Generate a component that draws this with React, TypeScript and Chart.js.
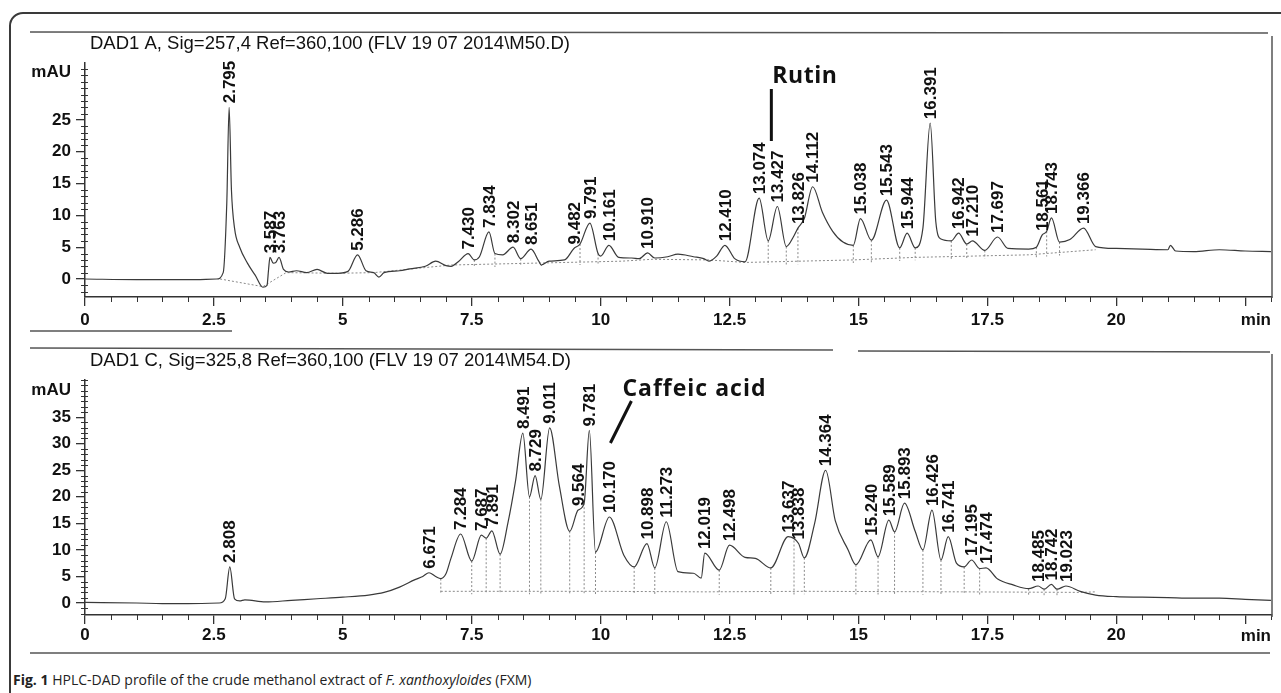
import React, { useEffect, useRef } from 'react';
import { Chart, registerables } from 'chart.js';

Chart.register(...registerables);

const FONT = '"Liberation Sans", Arial, Helvetica, sans-serif';
const ANNOT_FONT = 'bold 23px "Open Sans", "Noto Sans", sans-serif';

// ---------- shared x axis (retention time, min) ----------
const xTickValues = [0, 2.5, 5, 7.5, 10, 12.5, 15, 17.5, 20, 22.5];
const xTickLabels = ['0', '2.5', '5', '7.5', '10', '12.5', '15', '17.5', '20', ''];
const xMax = 23.02;

// ---------- Panel A: DAD1 A, Sig=257,4 ----------
const topTitle = 'DAD1 A, Sig=257,4 Ref=360,100 (FLV 19 07 2014\\M50.D)';
const topYTicks = [0, 5, 10, 15, 20, 25];
const topYLabels = ['0', '5', '10', '15', '20', '25'];
const topYMin = -2.83;
const topYMax = 33.96;
// [time (min), signal (mAU)]
const topTrace: [number, number][] = [
  [0, 0], [1, -0.1], [2, -0.1], [2.55, 0], [2.68, 1], [2.75, 12], [2.795, 27], [2.84, 14], [2.9, 8],
  [3, 5], [3.15, 2.5], [3.3, 0.6], [3.45, -1.3], [3.53, -1], [3.56, 1.5], [3.587, 3.4], [3.65, 2.5],
  [3.7, 2.6], [3.763, 3.4], [3.85, 1.5], [3.95, 1.1], [4.1, 1.3], [4.3, 1.0], [4.5, 1.5], [4.7, 0.9],
  [4.9, 0.9], [5.1, 1.2], [5.286, 3.8], [5.45, 1.3], [5.6, 1.0], [5.7, 0.3], [5.8, 1.0], [6.1, 1.3],
  [6.3, 1.6], [6.6, 2.0], [6.8, 2.8], [7.0, 2.1], [7.1, 2.0], [7.25, 2.8], [7.43, 4.0], [7.55, 3.0],
  [7.65, 3.5], [7.834, 7.4], [7.95, 4.0], [8.1, 3.8], [8.302, 5.0], [8.45, 3.2], [8.651, 4.7], [8.8, 2.8],
  [8.85, 2.2], [9.0, 2.8], [9.3, 3.0], [9.482, 4.8], [9.6, 5.5], [9.791, 8.8], [9.95, 4.0], [10.0, 3.6],
  [10.161, 5.3], [10.35, 3.4], [10.6, 3.3], [10.75, 3.2], [10.91, 4.1], [11.05, 3.3], [11.3, 3.5],
  [11.5, 3.9], [11.8, 3.5], [12.0, 3.2], [12.1, 2.8], [12.25, 3.6], [12.41, 5.3], [12.6, 3.2], [12.8, 2.7],
  [13.074, 12.7], [13.25, 6.0], [13.427, 11.4], [13.6, 5.1], [13.75, 6.8], [13.826, 8.0], [13.95, 9.5],
  [14.112, 14.5], [14.3, 10.5], [14.5, 7.5], [14.7, 5.8], [14.9, 5.3], [15.038, 9.5], [15.25, 6.1],
  [15.543, 12.4], [15.8, 4.9], [15.944, 7.2], [16.1, 4.9], [16.25, 8.0], [16.391, 24.5], [16.5, 9.0],
  [16.6, 6.3], [16.8, 6.0], [16.942, 7.2], [17.1, 5.5], [17.21, 6.0], [17.45, 4.5], [17.697, 6.6],
  [17.9, 4.8], [18.3, 4.7], [18.45, 5.0], [18.561, 6.9], [18.65, 7.5], [18.743, 9.6], [18.9, 5.8],
  [19.1, 6.2], [19.366, 8.0], [19.6, 5.1], [20.0, 4.8], [20.5, 4.7], [21.0, 4.6], [21.05, 5.3],
  [21.15, 4.4], [21.5, 4.3], [22.0, 4.6], [22.5, 4.4], [23.0, 4.3],
];
const topPeaks = [
  '2.795', '3.587', '3.763', '5.286', '7.430', '7.834', '8.302', '8.651', '9.482', '9.791', '10.161',
  '10.910', '12.410', '13.074', '13.427', '13.826', '14.112', '15.038', '15.543', '15.944', '16.391',
  '16.942', '17.210', '17.697', '18.561', '18.743', '19.366',
];
const topBaseline: [number, number][] = [
  [2.62, 0.0], [3.45, -1.2], [3.9, 1.0], [4.9, 0.9], [5.6, 1.0], [7.1, 2.2], [10.4, 2.8], [11.0, 3.1],
  [12.1, 3.0], [12.8, 2.6], [14.9, 3.0], [16.1, 3.4], [18.3, 3.8], [19.6, 4.6],
];
const topDrops = [7.55, 7.95, 8.45, 8.85, 9.6, 9.95, 13.25, 13.6, 13.826, 14.9, 15.25, 15.8, 16.1, 16.8, 17.1, 17.45, 18.45, 18.65, 18.9];

// ---------- Panel C: DAD1 C, Sig=325,8 ----------
const botTitle = 'DAD1 C, Sig=325,8 Ref=360,100 (FLV 19 07 2014\\M54.D)';
const botYTicks = [0, 5, 10, 15, 20, 25, 30, 35];
const botYLabels = ['0', '5', '10', '15', '20', '25', '30', '35'];
const botYMin = -2.26;
const botYMax = 42.0;
const botTrace: [number, number][] = [
  [0, 0.1], [1, 0], [1.5, -0.1], [2, -0.1], [2.6, 0], [2.72, 0.8], [2.808, 6.8], [2.9, 0.8], [3.0, 0.4],
  [3.1, 0.6], [3.5, 0.2], [4.0, 0.5], [4.5, 0.8], [5.0, 1.1], [5.5, 1.5], [5.8, 2.0], [6.1, 3.0],
  [6.4, 4.4], [6.55, 5.0], [6.671, 5.7], [6.8, 5.0], [6.9, 4.6], [7.0, 5.5], [7.1, 8.5], [7.284, 13.0],
  [7.5, 7.9], [7.687, 12.8], [7.78, 12.2], [7.891, 13.6], [8.05, 9.2], [8.2, 15], [8.35, 23], [8.491, 32.0],
  [8.62, 20.0], [8.729, 24.0], [8.84, 19.5], [9.011, 33.0], [9.2, 22], [9.4, 13.5], [9.564, 17.5],
  [9.68, 18.8], [9.781, 32.5], [9.9, 9.6], [10.17, 16.2], [10.45, 9], [10.65, 6.8], [10.898, 11.2],
  [11.05, 6.6], [11.273, 15.3], [11.5, 5.9], [11.8, 5.6], [11.95, 4.7], [12.019, 9.4], [12.3, 6.2],
  [12.498, 10.9], [12.8, 8.6], [13.0, 8.4], [13.3, 6.6], [13.637, 12.5], [13.838, 11.2], [13.95, 8.5],
  [14.15, 15], [14.364, 25.0], [14.55, 15.5], [14.8, 10], [14.95, 7.2], [15.24, 11.9], [15.38, 8.7],
  [15.589, 15.6], [15.7, 13.4], [15.893, 18.8], [16.1, 13.5], [16.25, 10.0], [16.426, 17.5], [16.6, 8.1],
  [16.741, 12.5], [16.9, 7.5], [17.05, 6.8], [17.195, 8.1], [17.35, 6.5], [17.474, 6.6], [17.7, 4.5],
  [18.0, 3.4], [18.3, 2.7], [18.485, 3.2], [18.6, 2.6], [18.742, 3.5], [18.85, 2.6], [19.023, 3.2],
  [19.3, 2.2], [19.6, 1.5], [20.0, 1.2], [20.5, 1.1], [21.0, 1.0], [21.5, 0.9], [22.0, 0.9], [22.5, 0.7],
  [23.0, 0.5],
];
const botPeaks = [
  '2.808', '6.671', '7.284', '7.687', '7.891', '8.491', '8.729', '9.011', '9.564', '9.781', '10.170',
  '10.898', '11.273', '12.019', '12.498', '13.637', '13.838', '14.364', '15.240', '15.589', '15.893',
  '16.426', '16.741', '17.195', '17.474', '18.485', '18.742', '19.023',
];
const botBaseline: [number, number][] = [
  [6.9, 2.2], [10.0, 2.2], [12.0, 2.1], [14.0, 2.2], [17.0, 2.1], [19.3, 2.0], [19.6, 2.1],
];
const botDrops = [6.9, 7.5, 7.78, 8.05, 8.62, 8.84, 9.4, 9.68, 9.9, 10.65, 11.05, 12.3, 13.3, 13.75, 13.95, 14.95, 15.38, 15.7, 16.25, 16.6, 17.05, 17.35, 18.3, 18.6, 18.85];

// ---------- helpers ----------
function valueAt(trace: [number, number][], t: number): number {
  for (let i = 0; i < trace.length - 1; i++) {
    const [t0, v0] = trace[i];
    const [t1, v1] = trace[i + 1];
    if (t >= t0 && t <= t1) return t1 === t0 ? v0 : v0 + ((v1 - v0) * (t - t0)) / (t1 - t0);
  }
  return trace[trace.length - 1][1];
}

type Seg = [number, number, number, number];
type PanelCfg = {
  height: number;
  areaTop: number;
  xAxisHeight: number;
  xPad: number;
  yMin: number;
  yMax: number;
  yTicks: number[];
  yLabels: string[];
  trace: [number, number][];
  baseline: [number, number][];
  peaks: string[];
  drops: number[];
  title: string;
  titleY: number;
  mauY: number;
  minY: number;
  rules: Seg[];
  annotate: (ctx: CanvasRenderingContext2D, xs: any) => void;
};

function panelPlugin(cfg: PanelCfg) {
  return {
    id: 'panelDecor',
    beforeDatasetsDraw(chart: any) {
      const ctx: CanvasRenderingContext2D = chart.ctx;
      const xs = chart.scales.x;
      const ys = chart.scales.y;
      ctx.save();
      ctx.strokeStyle = '#8a8a8a';
      ctx.lineWidth = 1;
      ctx.setLineDash([2, 2]);
      for (const t of cfg.drops) {
        const x = xs.getPixelForValue(t);
        const y1 = ys.getPixelForValue(valueAt(cfg.trace, t));
        const y2 = ys.getPixelForValue(valueAt(cfg.baseline, t));
        ctx.beginPath();
        ctx.moveTo(x, y1);
        ctx.lineTo(x, y2 + 3);
        ctx.stroke();
      }
      ctx.restore();
    },
    afterDraw(chart: any) {
      const ctx: CanvasRenderingContext2D = chart.ctx;
      const xs = chart.scales.x;
      const ys = chart.scales.y;
      const area = chart.chartArea;
      ctx.save();
      // minor ticks
      ctx.strokeStyle = '#333';
      ctx.lineWidth = 1;
      for (let v = Math.ceil(cfg.yMin); v <= Math.floor(cfg.yMax); v++) {
        if (cfg.yTicks.includes(v)) continue;
        const y = Math.round(ys.getPixelForValue(v)) + 0.5;
        ctx.beginPath();
        ctx.moveTo(area.left - 4, y);
        ctx.lineTo(area.left + 3, y);
        ctx.stroke();
      }
      for (let k = 1; k * 0.5 <= xMax; k++) {
        const v = k * 0.5;
        if (k % 5 === 0) continue;
        const x = Math.round(xs.getPixelForValue(v)) + 0.5;
        ctx.beginPath();
        ctx.moveTo(x, area.bottom);
        ctx.lineTo(x, area.bottom + 5);
        ctx.stroke();
      }
      // frame rules
      ctx.strokeStyle = '#555';
      ctx.lineWidth = 1.5;
      for (const [x1, y1, x2, y2] of cfg.rules) {
        ctx.beginPath();
        ctx.moveTo(x1, y1);
        ctx.lineTo(x2, y2);
        ctx.stroke();
      }
      // title, mAU, min
      ctx.fillStyle = '#111';
      ctx.font = `18.5px ${FONT}`;
      ctx.textBaseline = 'middle';
      ctx.textAlign = 'left';
      ctx.fillText(cfg.title, 90, cfg.titleY);
      ctx.font = `bold 17px ${FONT}`;
      ctx.textAlign = 'right';
      ctx.fillText('mAU', 71, cfg.mauY);
      ctx.fillText('min', area.right - 1, cfg.minY);
      // peak labels
      ctx.font = `bold 17px ${FONT}`;
      ctx.textAlign = 'left';
      ctx.textBaseline = 'middle';
      for (const lab of cfg.peaks) {
        const t = parseFloat(lab);
        const v = valueAt(cfg.trace, t);
        const x = xs.getPixelForValue(t);
        const y = ys.getPixelForValue(v) - 4;
        ctx.save();
        ctx.translate(x, y);
        ctx.rotate(-Math.PI / 2);
        ctx.fillText(lab, 0, 1);
        ctx.restore();
      }
      cfg.annotate(ctx, xs);
      ctx.restore();
    },
  };
}

function buildConfig(cfg: PanelCfg): any {
  const tickFont = { family: FONT, size: 17, weight: 'bold' as const };
  return {
    type: 'line',
    data: {
      datasets: [
        {
          data: cfg.trace.map(([x, y]) => ({ x, y })),
          borderColor: '#3a3a3a',
          borderWidth: 1.2,
          pointRadius: 0,
          cubicInterpolationMode: 'monotone',
          fill: false,
        },
        {
          data: cfg.baseline.map(([x, y]) => ({ x, y })),
          borderColor: '#8a8a8a',
          borderWidth: 1,
          borderDash: [2, 2],
          pointRadius: 0,
          tension: 0,
          fill: false,
        },
      ],
    },
    options: {
      animation: false,
      responsive: false,
      maintainAspectRatio: false,
      events: [],
      layout: { padding: { left: 0, right: 9, top: cfg.areaTop, bottom: 0 } },
      plugins: { legend: { display: false }, tooltip: { enabled: false }, title: { display: false } },
      scales: {
        x: {
          type: 'linear',
          min: 0,
          max: xMax,
          afterFit: (s: any) => {
            s.height = cfg.xAxisHeight;
          },
          afterBuildTicks: (s: any) => {
            s.ticks = xTickValues.map((v) => ({ value: v }));
          },
          ticks: {
            autoSkip: false,
            maxRotation: 0,
            padding: cfg.xPad,
            color: '#111',
            font: tickFont,
            callback: (_v: any, i: number) => xTickLabels[i] ?? '',
          },
          grid: { drawOnChartArea: false, tickLength: 9, color: '#333', lineWidth: 1.3 },
          border: { color: '#333', width: 1.5 },
        },
        y: {
          type: 'linear',
          min: cfg.yMin,
          max: cfg.yMax,
          afterFit: (s: any) => {
            s.width = 85;
          },
          afterBuildTicks: (s: any) => {
            s.ticks = cfg.yTicks.map((v) => ({ value: v }));
          },
          ticks: {
            padding: 5,
            color: '#111',
            font: tickFont,
            callback: (_v: any, i: number) => cfg.yLabels[i] ?? '',
          },
          grid: { drawOnChartArea: false, tickLength: 9, color: '#333', lineWidth: 1.3 },
          border: { color: '#333', width: 1.5 },
        },
      },
    },
    plugins: [panelPlugin(cfg)],
  };
}

function setSpacing(ctx: CanvasRenderingContext2D, v: string) {
  (ctx as any).letterSpacing = v;
}

const topCfg: PanelCfg = {
  height: 340,
  areaTop: 63,
  xAxisHeight: 43,
  xPad: 4,
  yMin: topYMin,
  yMax: topYMax,
  yTicks: topYTicks,
  yLabels: topYLabels,
  trace: topTrace,
  baseline: topBaseline,
  peaks: topPeaks,
  drops: topDrops,
  title: topTitle,
  titleY: 44,
  mauY: 72,
  minY: 320,
  rules: [
    [30, 32, 1268, 33],
    [1272, 36, 1272, 298],
    [30, 331, 232, 331],
  ],
  annotate: (ctx, xs) => {
    const px = xs.getPixelForValue(13.427);
    ctx.save();
    ctx.fillStyle = '#111';
    ctx.font = ANNOT_FONT;
    setSpacing(ctx, '0.5px');
    ctx.textAlign = 'left';
    ctx.textBaseline = 'alphabetic';
    ctx.fillText('Rutin', px - 5, 83);
    ctx.strokeStyle = '#111';
    ctx.lineWidth = 3;
    ctx.beginPath();
    ctx.moveTo(px - 6, 89);
    ctx.lineTo(px - 6, 141);
    ctx.stroke();
    ctx.restore();
  },
};

const botCfg: PanelCfg = {
  height: 330,
  areaTop: 40,
  xAxisHeight: 55,
  xPad: 1,
  yMin: botYMin,
  yMax: botYMax,
  yTicks: botYTicks,
  yLabels: botYLabels,
  trace: botTrace,
  baseline: botBaseline,
  peaks: botPeaks,
  drops: botDrops,
  title: botTitle,
  titleY: 21,
  mauY: 50,
  minY: 296,
  rules: [
    [30, 8, 833, 10],
    [858, 11, 1270, 12],
    [1272, 14, 1272, 277],
    [30, 313, 1270, 313],
  ],
  annotate: (ctx, xs) => {
    const px = xs.getPixelForValue(10.17);
    ctx.save();
    ctx.fillStyle = '#111';
    ctx.font = ANNOT_FONT;
    setSpacing(ctx, '1px');
    ctx.textAlign = 'left';
    ctx.textBaseline = 'alphabetic';
    ctx.fillText('Caffeic acid', px + 13, 56);
    ctx.strokeStyle = '#111';
    ctx.lineWidth = 3;
    ctx.beginPath();
    ctx.moveTo(px + 22, 61);
    ctx.lineTo(px + 1, 103);
    ctx.stroke();
    ctx.restore();
  },
};

function Panel({ cfg, top }: { cfg: PanelCfg; top: number }) {
  const ref = useRef<HTMLCanvasElement | null>(null);
  useEffect(() => {
    if (!ref.current) return;
    const chart = new Chart(ref.current, buildConfig(cfg));
    return () => chart.destroy();
  }, [cfg]);
  return (
    <canvas
      ref={ref}
      width={1281}
      height={cfg.height}
      style={{ position: 'absolute', left: 0, top, width: 1281, height: cfg.height }}
    />
  );
}

export default function App() {
  return (
    <div
      style={{
        position: 'absolute',
        left: 0,
        top: 0,
        width: 1281,
        height: 693,
        overflow: 'hidden',
        background: '#fff',
      }}
    >
      <div
        style={{
          position: 'absolute',
          left: 9,
          top: 12,
          width: 1320,
          height: 740,
          border: '2px solid #3a3a3a',
          borderRadius: 14,
          boxSizing: 'border-box',
        }}
      />
      <Panel cfg={topCfg} top={0} />
      <Panel cfg={botCfg} top={340} />
      <div
        style={{
          position: 'absolute',
          left: 13,
          top: 671,
          fontFamily: '"Open Sans", "Noto Sans", sans-serif',
          fontSize: 14,
          lineHeight: '18px',
          color: '#222',
          whiteSpace: 'nowrap',
        }}
      >
        <b>Fig. 1</b> HPLC-DAD profile of the crude methanol extract of <i>F. xanthoxyloides</i> (FXM)
      </div>
    </div>
  );
}
